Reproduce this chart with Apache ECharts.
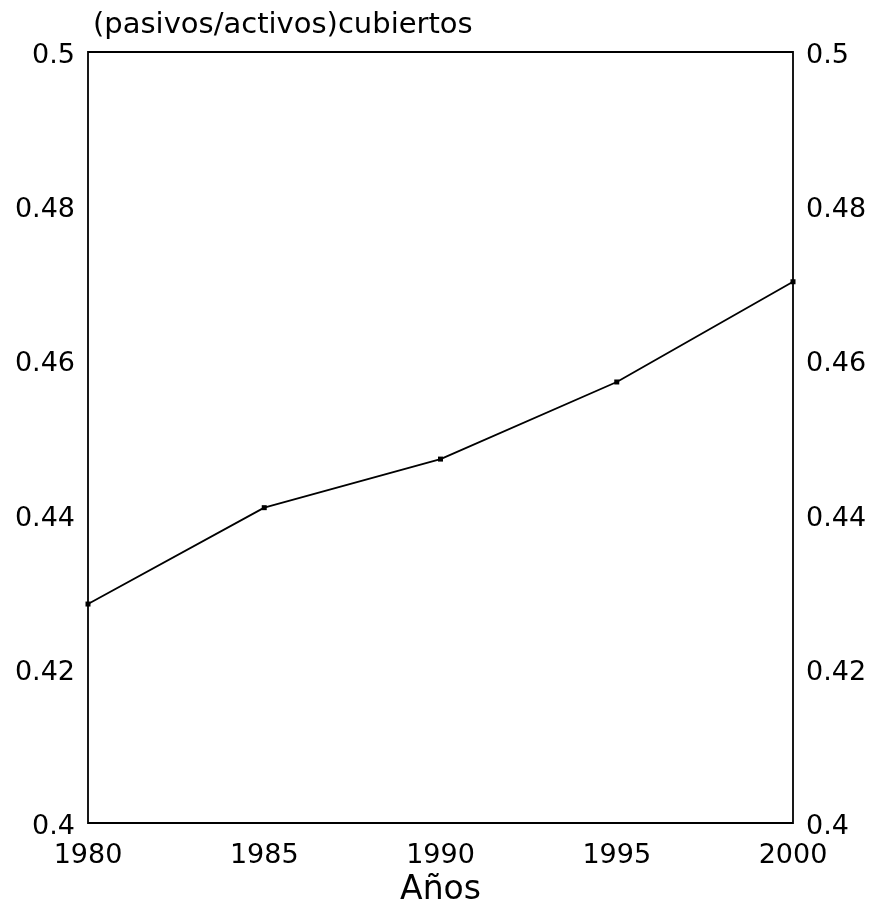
<!DOCTYPE html>
<html>
<head>
<meta charset="utf-8">
<script src="https://cdn.jsdelivr.net/npm/echarts@6/dist/echarts.min.js"></script>
<style>
  html, body { margin: 0; padding: 0; background: #fff; }
  #chart { width: 878px; height: 921px; }
</style>
</head>
<body>
<div id="chart"></div>
<script>
// años y ratio (pasivos/activos) cubiertos
const years = [1980, 1985, 1990, 1995, 2000]
const ratio = [0.4284, 0.4409, 0.4472, 0.4572, 0.4702]
const yTicks = [0.4, 0.42, 0.44, 0.46, 0.48, 0.5]

const chart = echarts.init(document.getElementById('chart'))
const font = 'DejaVu Sans, Liberation Sans, sans-serif'

// mismo eje a ambos lados, etiqueta un poco bajo la marca
const yAxisBase = {
  type: 'value',
  min: yTicks[0],
  max: yTicks[yTicks.length - 1],
  interval: 0.02,
  axisLine: { show: false },
  axisTick: { show: false },
  splitLine: { show: false },
  axisLabel: {
    margin: 13,
    formatter: (v) => '{t|' + v + '}',
    rich: {
      t: { color: '#000', fontSize: 27, fontFamily: font, padding: [8, 0, 0, 0] },
    },
  },
}

chart.setOption({
  animation: false,
  title: {
    text: '(pasivos/activos)cubiertos',
    left: 88,
    top: 6,
    textStyle: { color: '#000', fontSize: 29, fontWeight: 'normal', fontFamily: font },
  },
  grid: {
    left: 88,
    right: 85,
    top: 52,
    bottom: 98,
    show: true,
    borderColor: '#000',
    borderWidth: 1.8,
  },
  xAxis: {
    type: 'value',
    min: 1980,
    max: 2000,
    interval: 5,
    name: 'Años',
    nameLocation: 'middle',
    nameGap: 50,
    nameTextStyle: { color: '#000', fontSize: 33, fontFamily: font },
    axisLine: { show: false },
    axisTick: { show: false },
    splitLine: { show: false },
    axisLabel: {
      color: '#000',
      fontSize: 27,
      fontFamily: font,
      margin: 19,
      formatter: (v) => String(v),
    },
  },
  yAxis: [
    { ...yAxisBase, position: 'left' },
    { ...yAxisBase, position: 'right' },
  ],
  series: [
    {
      type: 'line',
      data: years.map((y, i) => [y, ratio[i]]),
      symbol: 'rect',
      symbolSize: 5,
      lineStyle: { color: '#000', width: 1.8 },
      itemStyle: { color: '#000' },
    },
  ],
})
</script>
</body>
</html>
